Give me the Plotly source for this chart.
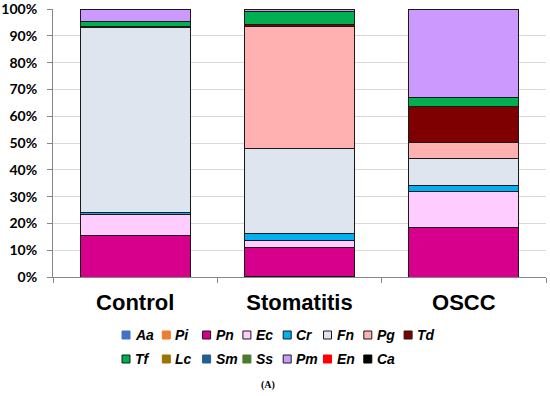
import plotly.graph_objects as go

categories = ["Control", "Stomatitis", "OSCC"]
species = ["Aa", "Pi", "Pn", "Ec", "Cr", "Fn", "Pg", "Td",
           "Tf", "Lc", "Sm", "Ss", "Pm", "En", "Ca"]

Aa = [0, 0, 0]
Pi = [0, 0.3, 0]
Pn = [15.5, 10.6, 18.4]
Ec = [7.8, 2.7, 13.6]
Cr = [0.8, 2.8, 2.3]
Fn = [69.1, 31.6, 9.8]
Pg = [0, 45.6, 6.2]
Td = [0.4, 0.8, 13.3]
Tf = [1.9, 4.7, 3.3]
Lc = [0, 0, 0]
Sm = [0, 0, 0]
Ss = [0, 0, 0]
Pm = [4.3, 0.9, 33.1]
En = [0, 0, 0]
Ca = [0.2, 0, 0]

values = [Aa, Pi, Pn, Ec, Cr, Fn, Pg, Td, Tf, Lc, Sm, Ss, Pm, En, Ca]
colors = ["#4472C4", "#ED7D31", "#D6008C", "#FFCCFF", "#00B0F0", "#DFE5EE",
          "#FFB0B0", "#7F0000", "#00B050", "#9C7400", "#255E91", "#4E7A2D",
          "#CC99FF", "#FF0000", "#000000"]
bordered = [False, False, True, True, True, True, True, True,
            True, False, False, False, True, False, False]

W, H = 550, 396
L, R, T, B = 53, 4, 9, 119
PW, PH = W - L - R, H - T - B

def px(x):
    return (x - L) / PW

def py(y):
    return (H - B - y) / PH

fig = go.Figure()
for name, vals, col in zip(species, values, colors):
    fig.add_trace(go.Bar(
        name=name, x=categories, y=vals,
        marker=dict(color=col, line=dict(color="#1a1a1a", width=1)),
        showlegend=False,
    ))

# custom legend (Excel-like compact entries)
shapes = []
annotations = []
per_row = 8
for i, (name, col, bd) in enumerate(zip(species, colors, bordered)):
    row, c = divmod(i, per_row)
    x0 = 122 + 40.3 * c
    yc = 335 + 24 * row
    shapes.append(dict(
        type="rect", xref="paper", yref="paper",
        x0=px(x0), x1=px(x0 + 8), y0=py(yc + 4), y1=py(yc - 4),
        fillcolor=col,
        line=dict(color="#1a1a1a" if bd else col, width=1),
    ))
    annotations.append(dict(
        xref="paper", yref="paper", x=px(x0 + 11), y=py(yc),
        xanchor="left", yanchor="middle", showarrow=False,
        text="<b><i>%s</i></b>" % name,
        font=dict(family="Liberation Sans, Arial", size=14, color="#000000"),
    ))

annotations.append(dict(
    xref="paper", yref="paper", x=px(268), y=py(385),
    xanchor="center", yanchor="middle", showarrow=False,
    text="<b>(A)</b>",
    font=dict(family="Liberation Serif, Times New Roman", size=10, color="#000000"),
))

fig.update_layout(
    template="none",
    width=W, height=H,
    margin=dict(l=L, r=R, t=T, b=B, pad=0, autoexpand=False),
    barmode="stack",
    bargap=0.33,
    plot_bgcolor="white",
    paper_bgcolor="white",
    shapes=shapes,
    annotations=annotations,
    xaxis=dict(
        automargin=False,
        showline=True, linecolor="#868686", linewidth=1,
        ticks="outside", tickson="boundaries", ticklen=5, tickcolor="#868686",
        tickfont=dict(family="Liberation Sans, Arial", size=22, color="#000000", weight="bold"),
        ticklabelstandoff=6,
        showgrid=False,
    ),
    yaxis=dict(
        automargin=False,
        range=[0, 100],
        tick0=0, dtick=10, ticksuffix="%",
        ticklabeloverflow="allow",
        showline=True, linecolor="#868686", linewidth=1,
        ticks="outside", ticklen=5, tickcolor="#868686",
        showgrid=True, gridcolor="#D9D9D9", gridwidth=1,
        zeroline=False,
        tickfont=dict(family="Lato, Liberation Sans", size=14, color="#000000", weight="bold"),
        ticklabelstandoff=7,
    ),
)

fig.write_html("out.html", config={"displayModeBar": False},
               post_script="document.body.style.margin='0';")
